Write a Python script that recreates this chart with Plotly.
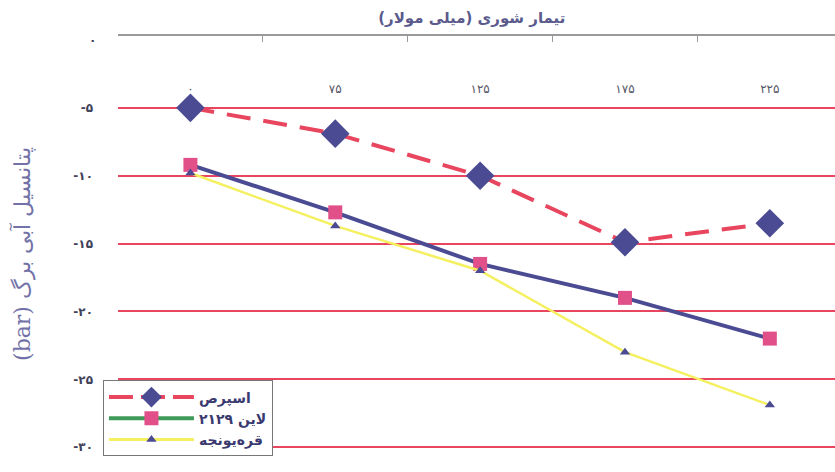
import plotly.graph_objects as go

# Salinity treatments (mM) and leaf water potential (bar)
salinity = ["۰", "۷۵", "۱۲۵", "۱۷۵", "۲۲۵"]
esparcet = [-5.0, -6.9, -10.0, -14.9, -13.5]
line_2129 = [-9.2, -12.7, -16.5, -19.0, -22.0]
alfalfa = [-9.8, -13.7, -17.0, -23.0, -26.9]

series_names = ["اسپرص", "لاین ۲۱۲۹", "قره‌یونجه"]

y_ticks = [0, -5, -10, -15, -20, -25, -30]
y_ticktext = ["۰", "-۵", "-۱۰", "-۱۵", "-۲۰", "-۲۵", "-۳۰"]

FONT = "DejaVu Sans"
NAVY = "#4b4b93"
RED = "#e8455e"
PINK = "#e2508a"
YELLOW = "#f4f060"
GREEN = "#3f9a5a"
TICK_COLOR = "#404058"

fig = go.Figure()

# data traces
fig.add_trace(go.Scatter(
    x=salinity, y=line_2129, mode="lines+markers", showlegend=False,
    line=dict(color=NAVY, width=4),
    marker=dict(symbol="square", size=14, color=PINK)))
fig.add_trace(go.Scatter(
    x=salinity, y=alfalfa, mode="lines+markers", showlegend=False,
    line=dict(color=YELLOW, width=2.5),
    marker=dict(symbol="triangle-up", size=9, color=NAVY)))
fig.add_trace(go.Scatter(
    x=salinity, y=esparcet, mode="lines+markers", showlegend=False,
    line=dict(color=RED, width=4, dash="24px,13px"),
    marker=dict(symbol="diamond", size=22, color=NAVY)))

# legend entries
legend_styles = [
    dict(line=dict(color=RED, width=4, dash="24px,8px"),
         marker=dict(symbol="diamond", size=16, color=NAVY)),
    dict(line=dict(color=GREEN, width=4),
         marker=dict(symbol="square", size=14, color=PINK)),
    dict(line=dict(color=YELLOW, width=3),
         marker=dict(symbol="triangle-up", size=9, color=NAVY)),
]
for name, style in zip(series_names, legend_styles):
    fig.add_trace(go.Scatter(x=[None], y=[None], mode="lines+markers",
                             name=f"<b>{name}</b>", **style))

fig.update_layout(
    width=835, height=472,
    margin=dict(l=118, r=0, t=36, b=0),
    paper_bgcolor="white", plot_bgcolor="white",
    font=dict(family=FONT),
    title=dict(text="<b>تیمار شوری (میلی مولار)</b>", x=0.565, xref="container",
               y=0.962, yref="container", xanchor="center", yanchor="middle",
               font=dict(size=15, color="#5a5a8c", family=FONT)),
    legend=dict(x=-0.021, xanchor="left", y=0.21, yanchor="top",
                bgcolor="white", bordercolor="#777777", borderwidth=1,
                itemwidth=85, tracegroupgap=0,
                font=dict(size=14, color="#3a3a70", family=FONT)),
)

fig.update_xaxes(
    type="category", side="top", range=[-0.5, 4.45],
    showline=True, linecolor="#9a9a9a", linewidth=1.5,
    ticks="inside", tickson="boundaries", ticklen=6, tickcolor="#9a9a9a",
    ticklabelposition="inside", ticklabelstandoff=42,
    tickfont=dict(size=12, color="#555566", family=FONT),
    showgrid=False, zeroline=False,
)

fig.update_yaxes(
    range=[-31.83, 0.295], tickvals=y_ticks[1:],
    ticktext=[f"<b>{t}</b>" for t in y_ticktext[1:]],
    tickfont=dict(size=12, color=TICK_COLOR, family=FONT),
    ticks="", ticklabelstandoff=24,
    showgrid=True, gridcolor=RED, gridwidth=1.5,
    zeroline=False, showline=False,
    title=dict(text="(bar) پتانسیل آبی برگ", standoff=36,
               font=dict(size=22, color="#7272a8", family="DejaVu Serif")),
)

# the zero label sits where the top axis line crosses, so place it directly
fig.add_annotation(
    x=0, xref="paper", y=y_ticks[0], yref="y",
    text=f"<b>{y_ticktext[0]}</b>", showarrow=False,
    xanchor="right", yanchor="middle", xshift=-20,
    font=dict(size=12, color=TICK_COLOR, family=FONT),
)

fig.write_html("out.html")
